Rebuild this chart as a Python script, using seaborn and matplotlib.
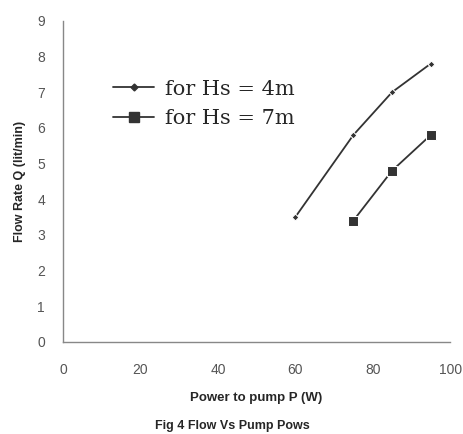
import pandas as pd
import numpy as np
import matplotlib.pyplot as plt
import seaborn as sns

# -----------------------------
# Data
# -----------------------------
power_4m = [60, 75, 85, 95]
flow_4m = [3.5, 5.8, 7.0, 7.8]
power_7m = [75, 85, 95]
flow_7m = [3.4, 4.8, 5.8]
labels = ["for Hs = 4m", "for Hs = 7m"]

df = pd.concat([
    pd.DataFrame({"power": power_4m, "flow": flow_4m, "series": labels[0]}),
    pd.DataFrame({"power": power_7m, "flow": flow_7m, "series": labels[1]}),
])

sns.set_style("white")
plt.rcParams['font.family'] = ['Liberation Sans', 'DejaVu Sans']

fig = plt.figure(figsize=(4.64, 4.34), dpi=100)
ax = fig.add_axes([0.136, 0.212, 0.834, 0.740])

sns.lineplot(data=df, x="power", y="flow", hue="series", style="series",
             markers={labels[0]: "D", labels[1]: "s"}, dashes=False,
             palette={labels[0]: "#333333", labels[1]: "#333333"},
             linewidth=1.3, markersize=5, ax=ax, legend=False)
ax.lines[0].set_markersize(3.5)
ax.lines[1].set_markersize(6.5)

ax.set_xlim(0, 100)
ax.set_ylim(0, 9)
ax.set_xticks(np.arange(0, 101, 20))
ax.set_yticks(np.arange(0, 10, 1))
for side in ["top", "right"]:
    ax.spines[side].set_visible(False)
for side in ["left", "bottom"]:
    ax.spines[side].set_color("#888888")
    ax.spines[side].set_linewidth(1.0)
ax.tick_params(axis="both", direction="inout", length=4, width=0.8,
               color="#888888", labelsize=10, labelcolor="#555555")
ax.tick_params(axis="x", pad=13)
ax.tick_params(axis="y", pad=11)

ax.set_xlabel("Power to pump P (W)", fontsize=9.5, fontweight="bold", labelpad=11)
ax.set_ylabel("Flow Rate Q (lit/min)", fontsize=9, fontweight="bold", labelpad=8)

handles = [
    plt.Line2D([], [], color="#333333", marker="D", markersize=3.5, linewidth=1.3),
    plt.Line2D([], [], color="#333333", marker="s", markersize=6.5, linewidth=1.3),
]
ax.legend(handles, labels, loc="upper left", bbox_to_anchor=(0.08, 0.875),
          frameon=False, prop={"family": "DejaVu Serif", "size": 15},
          handlelength=2.0, handletextpad=0.5, labelspacing=0.5)

fig.text(0.5, 0.012, "Fig 4 Flow Vs Pump Pows", ha="center", fontsize=9,
         fontweight="bold")

plt.savefig("out.png", dpi=100)
